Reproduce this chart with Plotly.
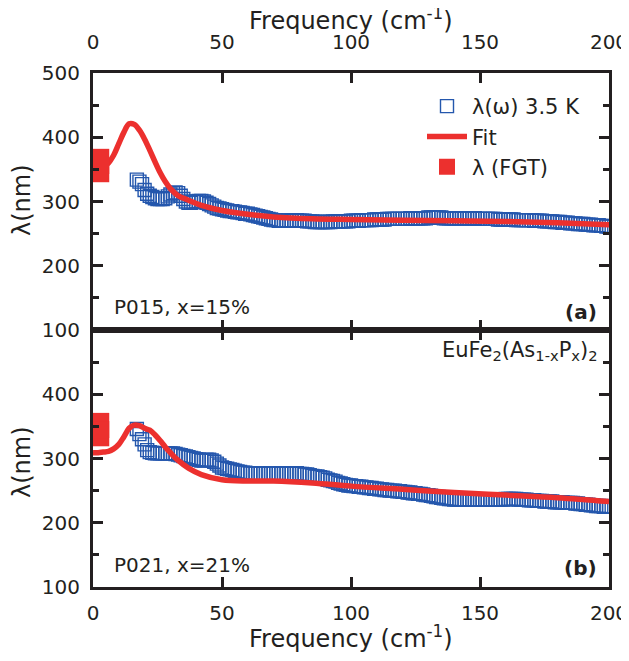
import plotly.graph_objects as go

# ---------------- data ----------------
freq = list(range(17, 201))  # cm^-1 sampling grid of the measured lambda(omega)

lam_top = [
    334, 331, 327, 318, 312, 309, 307, 305, 304, 304,
    304, 305, 308, 311, 313, 314, 313, 309, 304, 300,
    298, 298, 299, 300, 301, 301, 300, 298, 296, 294,
    292, 290, 289, 288, 287, 286, 285, 285, 284, 283,
    283, 282, 281, 281, 280, 279, 278, 277, 276, 275,
    274, 273, 272, 271, 271, 270, 270, 270, 270, 270,
    271, 271, 271, 270, 270, 270, 269, 269, 269, 268,
    268, 268, 268, 268, 268, 268, 269, 269, 269, 269,
    269, 269, 269, 270, 270, 270, 270, 271, 271, 271,
    271, 271, 272, 272, 272, 272, 272, 273, 273, 273,
    273, 273, 273, 273, 273, 273, 274, 274, 274, 274,
    274, 274, 274, 275, 275, 275, 275, 275, 275, 274,
    274, 274, 274, 274, 274, 274, 274, 274, 274, 274,
    274, 274, 273, 273, 273, 273, 273, 273, 273, 273,
    272, 272, 272, 272, 272, 272, 272, 271, 271, 271,
    271, 271, 271, 271, 270, 270, 270, 270, 269, 269,
    269, 269, 268, 268, 268, 267, 267, 267, 266, 266,
    266, 265, 265, 265, 264, 264, 264, 263, 263, 263,
    262, 262, 261, 261,
]

lam_bot = [
    346, 338, 330, 322, 313, 310, 309, 308, 308, 308,
    308, 308, 308, 308, 308, 307, 306, 305, 304, 303,
    302, 301, 300, 299, 298, 297, 297, 298, 298, 297,
    295, 292, 289, 286, 285, 284, 283, 282, 281, 280,
    279, 278, 278, 277, 277, 277, 277, 277, 277, 277,
    277, 277, 277, 277, 277, 277, 277, 277, 277, 277,
    277, 277, 277, 276, 276, 275, 275, 274, 273, 272,
    272, 271, 270, 269, 267, 266, 265, 264, 262, 261,
    260, 259, 258, 258, 257, 257, 256, 256, 255, 255,
    254, 254, 253, 253, 252, 252, 251, 251, 250, 250,
    250, 249, 249, 248, 248, 247, 247, 246, 246, 245,
    245, 244, 243, 243, 242, 241, 240, 240, 239, 238,
    238, 237, 237, 236, 236, 236, 236, 236, 236, 236,
    236, 236, 236, 236, 236, 236, 236, 236, 236, 236,
    236, 236, 236, 237, 237, 237, 237, 237, 236, 236,
    236, 236, 235, 235, 235, 234, 234, 234, 233, 233,
    233, 233, 232, 232, 232, 232, 231, 231, 231, 231,
    230, 230, 229, 229, 228, 228, 227, 227, 226, 226,
    226, 225, 225, 225,
]

fit_freq = [0, 2, 4, 6, 8, 10, 12, 14, 16, 18, 20, 22, 24, 26, 28, 30, 33, 37,
            42, 50, 60, 70, 85, 100, 120, 140, 160, 180, 200]
fit_top = [350, 352, 355, 360, 372, 390, 408, 421, 420, 411, 397, 380, 362, 345,
           331, 320, 309, 302, 294, 286, 280, 276, 273, 272, 271, 270, 269, 267, 264]
fit_bot = [309, 309, 310, 311, 315, 322, 334, 347, 352, 351, 347, 344, 337, 328,
           318, 309, 297, 285, 275, 267, 265, 265, 262, 257, 252, 247, 243, 239, 233]

fgt_freq = [3]
fgt_top = [356]
fgt_bot = [345]
fgt_err = [26]

y_ticks_top = [100, 200, 300, 400, 500]
y_ticks_bot = [100, 200, 300, 400]
x_ticks = [0, 50, 100, 150, 200]

# ---------------- style ----------------
BLUE = "#2457ad"
RED = "#ec302e"
INK = "#231f20"
FONT = "DejaVu Sans, Arial, sans-serif"

# the page body adds an 8 px offset; figure is sized so the plot lands where the reference has it
OFF = 8
W, H = 629 - OFF, 661 - OFF
L, R, T, B = 93 - OFF, 20, 73 - OFF, 74
PW, PH = W - L - R, H - T - B


def px_x(px):  # page pixel -> paper coordinate
    return (px - OFF - L) / PW


def px_y(py):
    return (H - B - (py - OFF)) / PH


fig = go.Figure()


def add_panel(xa, ya, lam, fit, fgt, show):
    fig.add_trace(go.Scatter(
        x=freq, y=lam, mode="markers", name="λ(ω) 3.5 K",
        marker=dict(symbol="square-open", size=13, color=BLUE, line=dict(width=1.4, color=BLUE)),
        xaxis=xa, yaxis=ya, showlegend=show))
    fig.add_trace(go.Scatter(
        x=fit_freq, y=fit, mode="lines", name="Fit", line_shape="spline",
        line=dict(color=RED, width=5.5), xaxis=xa, yaxis=ya, showlegend=show))
    fig.add_trace(go.Scatter(
        x=fgt_freq, y=fgt, mode="markers", name="λ (FGT)",
        marker=dict(symbol="square", size=17, color=RED),
        error_y=dict(type="data", array=fgt_err, thickness=17, width=0, color=RED),
        xaxis=xa, yaxis=ya, showlegend=show))


add_panel("x2", "y2", lam_top, fit_top, fgt_top, True)
add_panel("x", "y", lam_bot, fit_bot, fgt_bot, False)

axis_common = dict(
    showline=True, linecolor=INK, linewidth=3, mirror="ticks",
    ticks="inside", tickcolor=INK, tickwidth=2.5, ticklen=10,
    showgrid=False, zeroline=False, automargin=False,
    tickfont=dict(family=FONT, size=20, color=INK),
)
minor = dict(dtick=50, ticks="inside", ticklen=6, tickwidth=2.5, tickcolor=INK, showgrid=False)

fig.update_layout(
    width=W, height=H,
    margin=dict(l=L, r=R, t=T, b=B),
    plot_bgcolor="white", paper_bgcolor="white",
    font=dict(family=FONT, color=INK),
    xaxis=dict(axis_common, domain=[0, 1], anchor="y", range=[0, 200], tickvals=x_ticks,
               side="bottom", ticklabelstandoff=6),
    xaxis2=dict(axis_common, domain=[0, 1], anchor="y2", range=[0, 200], tickvals=x_ticks,
                side="top", matches="x", ticklabelstandoff=13),
    yaxis=dict(axis_common, domain=[0, 0.5], anchor="x", range=[100, 500], tickvals=y_ticks_bot,
               minor=minor, ticklabelstandoff=6),
    yaxis2=dict(axis_common, domain=[0.5, 1], anchor="x2", range=[100, 500], tickvals=y_ticks_top,
                minor=minor, ticklabelstandoff=6),
    legend=dict(x=px_x(422), y=px_y(86), xanchor="left", yanchor="top",
                bgcolor="rgba(0,0,0,0)", font=dict(family=FONT, size=21, color=INK),
                tracegroupgap=0, itemwidth=40),
    showlegend=True,
)

title_font = dict(family=FONT, size=24, color=INK)
# axis titles
fig.add_annotation(text="Frequency (cm<sup>-1</sup>)", xref="paper", yref="paper",
                   x=0.5, y=px_y(19), xanchor="center", yanchor="middle", showarrow=False, font=title_font)
fig.add_annotation(text="Frequency (cm<sup>-1</sup>)", xref="paper", yref="paper",
                   x=0.5, y=px_y(637), xanchor="center", yanchor="middle", showarrow=False, font=title_font)
fig.add_annotation(text="λ(nm)", xref="paper", yref="paper", textangle=-90,
                   x=px_x(22), y=px_y(200), xanchor="center", yanchor="middle", showarrow=False, font=title_font)
fig.add_annotation(text="λ(nm)", xref="paper", yref="paper", textangle=-90,
                   x=px_x(22), y=px_y(462), xanchor="center", yanchor="middle", showarrow=False, font=title_font)

ann_font = dict(family=FONT, size=20, color=INK)
fig.add_annotation(text="P015, x=15%", xref="x2", yref="y2", x=7.5, y=136, xanchor="left",
                   yanchor="middle", showarrow=False, font=ann_font)
fig.add_annotation(text="<b>(a)</b>", xref="x2", yref="y2", x=196, y=128, xanchor="right",
                   yanchor="middle", showarrow=False, font=ann_font)
fig.add_annotation(text="P021, x=21%", xref="x", yref="y", x=7.5, y=134, xanchor="left",
                   yanchor="middle", showarrow=False, font=ann_font)
fig.add_annotation(text="<b>(b)</b>", xref="x", yref="y", x=196, y=129, xanchor="right",
                   yanchor="middle", showarrow=False, font=ann_font)
fig.add_annotation(text="EuFe<sub>2</sub>(As<sub>1-x</sub>P<sub>x</sub>)<sub>2</sub>",
                   xref="x", yref="y", x=196.5, y=468, xanchor="right", yanchor="middle",
                   showarrow=False, font=dict(family=FONT, size=21, color=INK))

fig.write_html("out.html")
